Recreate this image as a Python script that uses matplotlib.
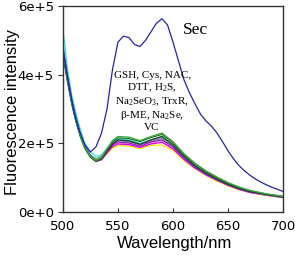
import matplotlib
matplotlib.use("Agg")
import matplotlib.pyplot as plt

plt.rcParams["mathtext.fontset"] = "custom"
plt.rcParams["mathtext.rm"] = "Liberation Serif"
plt.rcParams["mathtext.it"] = "Liberation Serif:italic"
plt.rcParams["mathtext.default"] = "rm"

# emission spectra, intensity in units of 1e5
wl_sec = list(range(500, 701, 5))
sec = [4.7, 3.75, 2.9, 2.35, 1.95, 1.75, 1.9, 2.3, 3.0, 4.15, 4.95, 5.12, 5.08, 4.88, 4.82,
       5.0, 5.25, 5.5, 5.63, 5.45, 4.95, 4.4, 3.85, 3.47, 3.15, 2.85, 2.65, 2.5, 2.3, 2.05,
       1.78, 1.55, 1.35, 1.2, 1.07, 0.96, 0.87, 0.79, 0.72, 0.66, 0.6]

wl = [500, 504, 508, 512, 516, 520, 525, 530, 535, 540, 545, 550, 560, 570, 580, 590,
      600, 610, 620, 630, 640, 650, 660, 670, 685, 700]
others = {
    "olive": [4.55, 3.8, 3.14, 2.6, 2.17, 1.84, 1.6, 1.48, 1.56, 1.8, 2.0, 2.1, 2.08, 1.98, 2.1, 2.18, 1.95, 1.62, 1.34, 1.13, 0.96, 0.81, 0.69, 0.6, 0.51, 0.44],
    "yellow": [4.6, 3.85, 3.2, 2.68, 2.24, 1.9, 1.65, 1.52, 1.55, 1.7, 1.86, 1.93, 1.92, 1.84, 1.94, 1.95, 1.8, 1.5, 1.26, 1.06, 0.9, 0.76, 0.65, 0.56, 0.48, 0.42],
    "pink": [4.7, 3.92, 3.24, 2.7, 2.25, 1.9, 1.65, 1.52, 1.56, 1.74, 1.92, 2.0, 1.98, 1.9, 2.0, 2.06, 1.86, 1.55, 1.29, 1.09, 0.93, 0.78, 0.66, 0.57, 0.49, 0.42],
    "magenta": [4.7, 3.9, 3.22, 2.68, 2.24, 1.88, 1.62, 1.48, 1.52, 1.72, 1.9, 1.98, 1.96, 1.88, 1.98, 2.03, 1.84, 1.53, 1.28, 1.08, 0.92, 0.78, 0.66, 0.57, 0.49, 0.43],
    "cyan": [5.3, 4.2, 3.4, 2.85, 2.38, 2.0, 1.75, 1.62, 1.66, 1.85, 2.02, 2.12, 2.1, 2.0, 2.1, 2.18, 1.94, 1.6, 1.33, 1.12, 0.95, 0.8, 0.68, 0.59, 0.5, 0.44],
    "gray": [4.65, 3.9, 3.22, 2.68, 2.24, 1.9, 1.66, 1.55, 1.62, 1.82, 2.0, 2.08, 2.05, 1.96, 2.06, 2.14, 1.91, 1.58, 1.31, 1.1, 0.94, 0.79, 0.67, 0.58, 0.5, 0.43],
    "purple": [4.85, 4.0, 3.28, 2.72, 2.26, 1.9, 1.64, 1.5, 1.55, 1.75, 1.95, 2.04, 2.01, 1.92, 2.04, 2.1, 1.9, 1.57, 1.31, 1.1, 0.94, 0.79, 0.67, 0.58, 0.5, 0.43],
    "black": [4.6, 3.85, 3.18, 2.64, 2.2, 1.86, 1.6, 1.47, 1.54, 1.77, 1.98, 2.1, 2.07, 1.97, 2.1, 2.2, 1.96, 1.63, 1.35, 1.14, 0.96, 0.81, 0.69, 0.6, 0.51, 0.44],
    "darkgreen": [4.6, 3.85, 3.15, 2.62, 2.18, 1.85, 1.6, 1.47, 1.55, 1.8, 2.04, 2.16, 2.14, 2.05, 2.17, 2.26, 2.02, 1.67, 1.4, 1.18, 1.0, 0.84, 0.71, 0.62, 0.52, 0.45],
    "green": [4.7, 3.9, 3.2, 2.65, 2.2, 1.87, 1.62, 1.5, 1.6, 1.85, 2.08, 2.2, 2.18, 2.08, 2.2, 2.3, 2.05, 1.7, 1.42, 1.2, 1.02, 0.86, 0.73, 0.63, 0.53, 0.46],
}
colors = {
    "olive": "#8a8a00", "yellow": "#f2f000", "pink": "#ff8cc8", "magenta": "#e000e0",
    "cyan": "#20e8e8", "gray": "#8c8c8c", "purple": "#7a1fc0", "black": "#303030",
    "darkgreen": "#1e6e1e", "green": "#3aa83a",
}

fig = plt.figure(figsize=(2.95, 2.59), dpi=100)
ax = fig.add_axes([63 / 295, 1 - 212 / 259, 220 / 295, 206 / 259])

for name, vals in others.items():
    ax.plot(wl, [v * 1e5 for v in vals], color=colors[name], lw=0.9)
ax.plot(wl_sec, [v * 1e5 for v in sec], color="#2424a6", lw=0.9)

ax.set_xlim(500, 700)
ax.set_ylim(0, 6e5)
ax.set_xticks([500, 550, 600, 650, 700])
ax.set_yticks([0, 2e5, 4e5, 6e5])
ax.set_yticklabels(["0e+0", "2e+5", "4e+5", "6e+5"])
ax.tick_params(axis="x", direction="in", length=3, pad=6, labelsize=9.5, colors="#333333", labelcolor="black")
ax.tick_params(axis="y", direction="out", length=3.5, pad=3, labelsize=9.5, colors="#333333", labelcolor="black")
for s in ax.spines.values():
    s.set_linewidth(1.0)
    s.set_color("#333333")

serif = ["Liberation Serif", "DejaVu Serif"]
ax.text(620, 5.3e5, "Sec", family=serif, fontsize=12.5, ha="center", va="center")
ax.text(581, 4.1e5,
        "GSH, Cys, NAC,\nDTT, H$_2$S,\nNa$_2$SeO$_3$, TrxR,\n\u03b2-ME, Na$_2$Se,\nVC",
        family=serif, fontsize=8, ha="center", va="top", linespacing=1.15)

fig.text(175 / 295, 1 - 248 / 259, "Wavelength/nm", family="Liberation Sans",
         fontsize=12, ha="center", va="baseline")
fig.text(17 / 295, 1 - 112 / 259, "Fluorescence intensity", family="Liberation Sans",
         fontsize=12, ha="center", va="baseline", rotation=90, rotation_mode="anchor")

fig.savefig("out.png", dpi=100)
